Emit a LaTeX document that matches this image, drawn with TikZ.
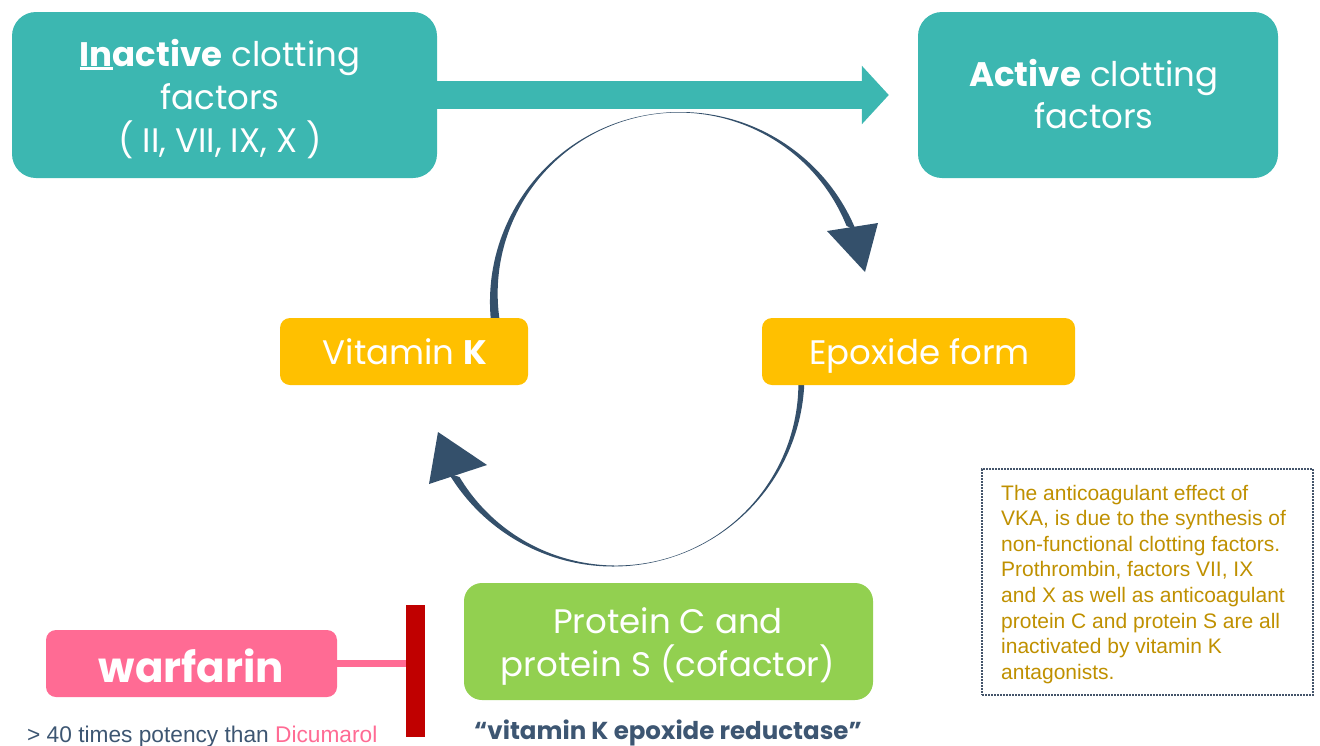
\documentclass[tikz,border=0pt]{standalone}
\usepackage{fontspec}
\newfontfamily\gothic{Poppins}
\newfontfamily\arial{Liberation Sans}
\usetikzlibrary{arrows.meta,calc}
\definecolor{tealc}{HTML}{3CB7B1}
\definecolor{yellowc}{HTML}{FFC000}
\definecolor{greenc}{HTML}{92D050}
\definecolor{pinkc}{HTML}{FF6B94}
\definecolor{redc}{HTML}{C00000}
\definecolor{arcc}{HTML}{34506B}
\definecolor{goldc}{HTML}{BF9000}
\definecolor{darkc}{HTML}{3D5672}
\definecolor{framec}{HTML}{44546A}
\newcommand\myul[1]{\setbox0\hbox{#1}\rlap{\rule[-4pt]{\wd0}{2.8pt}}\box0}
\begin{document}
\begin{tikzpicture}[x=1pt,y=-1pt,
  fbox/.style={inner sep=0pt},
  btxt/.style={anchor=base, inner sep=0pt, text=white, font=\gothic\fontsize{34}{43}\selectfont},
  arcfill/.style={fill=arcc}]
\useasboundingbox (0,0) rectangle (1320,745);

% cycle arrows (behind the boxes)
\coordinate (c1) at (680,302);
\coordinate (c1i) at ($(c1)+(261:8.5)$);
\fill[arcfill] ($(c1)+(172:190)$) arc[start angle=172, end angle=338, radius=190]
  -- ($(c1i)+(338:181)$) arc[start angle=338, end angle=172, radius=181] -- cycle;
\coordinate (t1) at (865,272);
\coordinate (t1a) at (827,231);
\coordinate (t1b) at (878,223);
\fill[arcfill] (t1) -- (t1a) -- (t1b) -- cycle;

\coordinate (c2) at (613,375);
\coordinate (c2i) at ($(c2)+(70:8.5)$);
\fill[arcfill] ($(c2)+(-2:191.5)$) arc[start angle=-2, end angle=149, radius=191.5]
  -- ($(c2i)+(149:182.5)$) arc[start angle=149, end angle=-2, radius=182.5] -- cycle;
\coordinate (t2) at (438,432);
\coordinate (t2a) at (429,484);
\coordinate (t2b) at (487,465);
\fill[arcfill] (t2) -- (t2a) -- (t2b) -- cycle;

% boxes
\node[fbox, fill=tealc, minimum width=425pt, minimum height=166pt, rounded corners=24pt] (inactive) at (224.5,95) {};
\node[btxt] (in1) at (220,66) {\myul{\bfseries In}\textbf{active} clotting};
\node[btxt] (in2) at (220,109) {factors};
\node[btxt] (in3) at (220,152) {( II, VII, IX, X )};

\node[fbox, fill=tealc, minimum width=360pt, minimum height=166pt, rounded corners=24pt] (active) at (1098,95) {};
\node[btxt] (ac1) at (1094,86) {\textbf{Active} clotting};
\node[btxt] (ac2) at (1094,128) {factors};

\draw[tealc, line width=28pt, -{Triangle[length=27pt, width=57pt]}, shorten >=29pt] (inactive.east) -- (active.west);

\node[fbox, fill=yellowc, minimum width=248pt, minimum height=67pt, rounded corners=10pt] (vitk) at (404,351.5) {};
\node[btxt] (vkt) at (405,364) {Vitamin \textbf{K}};
\node[fbox, fill=yellowc, minimum width=313pt, minimum height=67pt, rounded corners=10pt] (epox) at (918.5,351.5) {};
\node[btxt] (ept) at (919.5,364) {Epoxide form};

\node[fbox, fill=greenc, minimum width=409pt, minimum height=117pt, rounded corners=18pt] (prot) at (668.5,641.5) {};
\node[btxt] (pr1) at (668,633) {Protein C and};
\node[btxt] (pr2) at (668,676) {protein S (cofactor)};

\node[fbox, fill=pinkc, minimum width=291pt, minimum height=67pt, rounded corners=10pt] (warf) at (191.5,663.5) {};
\node[btxt, font=\gothic\bfseries\fontsize{42}{50}\selectfont] (wt) at (191.5,682) {warfarin};
\node[fill=redc, inner sep=0pt, minimum width=19pt, minimum height=132pt] (bar) at (415.5,671) {};
\draw[pinkc, line width=7pt] (warf.east) -- (bar.west |- warf.east);

\node[anchor=base west, inner sep=0pt, text=darkc, font=\arial\fontsize{22.7}{26}\selectfont] (pot) at (27,742)
  {> 40 times potency than \textcolor{pinkc}{Dicumarol}};
\node[anchor=base, inner sep=0pt, text=darkc, font=\gothic\bfseries\fontsize{24.5}{28}\selectfont] (vker) at (668,739)
  {“vitamin K epoxide reductase”};

\node[draw=framec, line width=1.6pt, dash pattern=on 1.6pt off 1.4pt, inner sep=0pt, minimum width=331pt, minimum height=226pt] (note) at (1147.5,582) {};
\node[anchor=base west, inner sep=0pt, align=left, text=goldc, font=\arial\fontsize{21}{25.6}\selectfont] (notetxt) at (1001,500)
  {The anticoagulant effect of};
\foreach \i/\t in {1/{VKA, is due to the synthesis of},2/{non-functional clotting factors.},
   3/{Prothrombin, factors VII, IX},4/{and X as well as anticoagulant},5/{protein C and protein S are all},
   6/{inactivated by vitamin K},7/{antagonists.}}
  \node[anchor=base west, inner sep=0pt, text=goldc, font=\arial\fontsize{21}{25.6}\selectfont] (note\i) at (1001,500+25.6*\i) {\t};
\end{tikzpicture}
\end{document}
